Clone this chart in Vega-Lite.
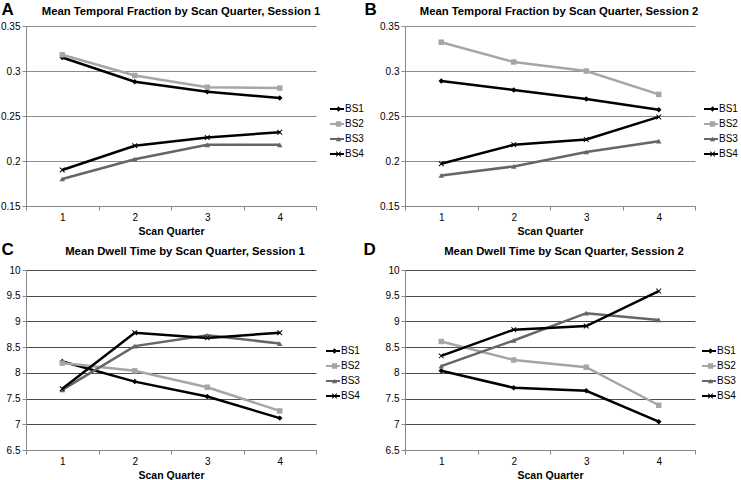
{
  "$schema": "https://vega.github.io/schema/vega-lite/v6.json",
  "padding": {"left": 0, "top": 0, "right": 0, "bottom": 0},
  "background": "white",
  "datasets": {
    "rows": [
      {"panel": "A", "quarter": 1, "series": "BS1", "value": 0.315},
      {"panel": "A", "quarter": 2, "series": "BS1", "value": 0.288},
      {"panel": "A", "quarter": 3, "series": "BS1", "value": 0.277},
      {"panel": "A", "quarter": 4, "series": "BS1", "value": 0.270},
      {"panel": "A", "quarter": 1, "series": "BS2", "value": 0.318},
      {"panel": "A", "quarter": 2, "series": "BS2", "value": 0.295},
      {"panel": "A", "quarter": 3, "series": "BS2", "value": 0.282},
      {"panel": "A", "quarter": 4, "series": "BS2", "value": 0.281},
      {"panel": "A", "quarter": 1, "series": "BS3", "value": 0.180},
      {"panel": "A", "quarter": 2, "series": "BS3", "value": 0.202},
      {"panel": "A", "quarter": 3, "series": "BS3", "value": 0.218},
      {"panel": "A", "quarter": 4, "series": "BS3", "value": 0.218},
      {"panel": "A", "quarter": 1, "series": "BS4", "value": 0.190},
      {"panel": "A", "quarter": 2, "series": "BS4", "value": 0.217},
      {"panel": "A", "quarter": 3, "series": "BS4", "value": 0.226},
      {"panel": "A", "quarter": 4, "series": "BS4", "value": 0.232},
      {"panel": "B", "quarter": 1, "series": "BS1", "value": 0.289},
      {"panel": "B", "quarter": 2, "series": "BS1", "value": 0.279},
      {"panel": "B", "quarter": 3, "series": "BS1", "value": 0.269},
      {"panel": "B", "quarter": 4, "series": "BS1", "value": 0.257},
      {"panel": "B", "quarter": 1, "series": "BS2", "value": 0.332},
      {"panel": "B", "quarter": 2, "series": "BS2", "value": 0.310},
      {"panel": "B", "quarter": 3, "series": "BS2", "value": 0.300},
      {"panel": "B", "quarter": 4, "series": "BS2", "value": 0.274},
      {"panel": "B", "quarter": 1, "series": "BS3", "value": 0.184},
      {"panel": "B", "quarter": 2, "series": "BS3", "value": 0.194},
      {"panel": "B", "quarter": 3, "series": "BS3", "value": 0.210},
      {"panel": "B", "quarter": 4, "series": "BS3", "value": 0.222},
      {"panel": "B", "quarter": 1, "series": "BS4", "value": 0.197},
      {"panel": "B", "quarter": 2, "series": "BS4", "value": 0.218},
      {"panel": "B", "quarter": 3, "series": "BS4", "value": 0.224},
      {"panel": "B", "quarter": 4, "series": "BS4", "value": 0.249},
      {"panel": "C", "quarter": 1, "series": "BS1", "value": 8.22},
      {"panel": "C", "quarter": 2, "series": "BS1", "value": 7.83},
      {"panel": "C", "quarter": 3, "series": "BS1", "value": 7.54},
      {"panel": "C", "quarter": 4, "series": "BS1", "value": 7.12},
      {"panel": "C", "quarter": 1, "series": "BS2", "value": 8.19},
      {"panel": "C", "quarter": 2, "series": "BS2", "value": 8.04},
      {"panel": "C", "quarter": 3, "series": "BS2", "value": 7.72},
      {"panel": "C", "quarter": 4, "series": "BS2", "value": 7.26},
      {"panel": "C", "quarter": 1, "series": "BS3", "value": 7.67},
      {"panel": "C", "quarter": 2, "series": "BS3", "value": 8.52},
      {"panel": "C", "quarter": 3, "series": "BS3", "value": 8.73},
      {"panel": "C", "quarter": 4, "series": "BS3", "value": 8.57},
      {"panel": "C", "quarter": 1, "series": "BS4", "value": 7.69},
      {"panel": "C", "quarter": 2, "series": "BS4", "value": 8.78},
      {"panel": "C", "quarter": 3, "series": "BS4", "value": 8.68},
      {"panel": "C", "quarter": 4, "series": "BS4", "value": 8.78},
      {"panel": "D", "quarter": 1, "series": "BS1", "value": 8.04},
      {"panel": "D", "quarter": 2, "series": "BS1", "value": 7.71},
      {"panel": "D", "quarter": 3, "series": "BS1", "value": 7.65},
      {"panel": "D", "quarter": 4, "series": "BS1", "value": 7.05},
      {"panel": "D", "quarter": 1, "series": "BS2", "value": 8.61},
      {"panel": "D", "quarter": 2, "series": "BS2", "value": 8.25},
      {"panel": "D", "quarter": 3, "series": "BS2", "value": 8.11},
      {"panel": "D", "quarter": 4, "series": "BS2", "value": 7.37},
      {"panel": "D", "quarter": 1, "series": "BS3", "value": 8.13},
      {"panel": "D", "quarter": 2, "series": "BS3", "value": 8.63},
      {"panel": "D", "quarter": 3, "series": "BS3", "value": 9.16},
      {"panel": "D", "quarter": 4, "series": "BS3", "value": 9.03},
      {"panel": "D", "quarter": 1, "series": "BS4", "value": 8.33},
      {"panel": "D", "quarter": 2, "series": "BS4", "value": 8.84},
      {"panel": "D", "quarter": 3, "series": "BS4", "value": 8.91},
      {"panel": "D", "quarter": 4, "series": "BS4", "value": 9.59}
    ]
  },
  "data": {"name": "rows"},
  "columns": 2,
  "spacing": {"row": 64, "column": 89},
  "bounds": "flush",
  "resolve": {
    "scale": {"stroke": "independent", "color": "independent", "shape": "independent", "x": "independent", "y": "independent"},
    "legend": {"stroke": "independent", "color": "independent", "shape": "independent"}
  },
  "concat": [
    {
      "width": 290, "height": 180,
      "title": {"text": "Mean Temporal Fraction by Scan Quarter, Session 1", "dx": 10},
      "transform": [{"filter": "datum.panel === 'A'"}],
      "encoding": {
        "x": {"field": "quarter", "type": "ordinal", "bandPosition": 0.5,
              "scale": {"type": "band", "paddingInner": 0, "paddingOuter": 0},
              "axis": {"title": "Scan Quarter"}},
        "y": {"field": "value", "type": "quantitative",
              "scale": {"domain": [0.15, 0.35], "nice": false, "zero": false},
              "axis": {"values": [0.15, 0.2, 0.25, 0.3, 0.35], "format": "~g", "gridColor": "#8c8c8c",
                       "title": "A", "titleX": -25, "titleY": -12}}
      },
      "layer": [
        {"mark": {"type": "line", "strokeWidth": 2.5},
         "encoding": {"stroke": {"field": "series", "type": "nominal",
           "scale": {"range": ["#000000", "#a6a6a6", "#666666", "#000000"]},
           "legend": {"legendX": 303, "legendY": 78}}}},
        {"mark": {"type": "point", "filled": true, "size": 30, "opacity": 1},
         "encoding": {
           "color": {"field": "series", "type": "nominal",
             "scale": {"domain": ["BS1", "BS2", "BS3", "BS4"], "range": ["#000000", "#a6a6a6", "#666666", "#000000"]},
             "legend": {"legendX": 307.5, "legendY": 78, "symbolSize": 28, "labelExpr": "''", "labelOffset": 0, "symbolStrokeWidth": 0}},
           "shape": {"field": "series", "type": "nominal", "legend": null,
             "scale": {"domain": ["BS1", "BS2", "BS3", "BS4"], "range": ["diamond", "square", "triangle-up", "M-1,-0.75L-0.75,-1L0,-0.25L0.75,-1L1,-0.75L0.25,0L1,0.75L0.75,1L0,0.25L-0.75,1L-1,0.75L-0.25,0Z"]}}}}
      ]
    },
    {
      "width": 290, "height": 180,
      "title": {"text": "Mean Temporal Fraction by Scan Quarter, Session 2", "dx": 9},
      "transform": [{"filter": "datum.panel === 'B'"}],
      "encoding": {
        "x": {"field": "quarter", "type": "ordinal", "bandPosition": 0.5,
              "scale": {"type": "band", "paddingInner": 0, "paddingOuter": 0},
              "axis": {"title": "Scan Quarter"}},
        "y": {"field": "value", "type": "quantitative",
              "scale": {"domain": [0.15, 0.35], "nice": false, "zero": false},
              "axis": {"values": [0.15, 0.2, 0.25, 0.3, 0.35], "format": "~g", "gridColor": "#8c8c8c",
                       "title": "B", "titleX": -41, "titleY": -12}}
      },
      "layer": [
        {"mark": {"type": "line", "strokeWidth": 2.5},
         "encoding": {"stroke": {"field": "series", "type": "nominal",
           "scale": {"range": ["#000000", "#a6a6a6", "#666666", "#000000"]},
           "legend": {"legendX": 298, "legendY": 78}}}},
        {"mark": {"type": "point", "filled": true, "size": 30, "opacity": 1},
         "encoding": {
           "color": {"field": "series", "type": "nominal",
             "scale": {"domain": ["BS1", "BS2", "BS3", "BS4"], "range": ["#000000", "#a6a6a6", "#666666", "#000000"]},
             "legend": {"legendX": 302.5, "legendY": 78, "symbolSize": 28, "labelExpr": "''", "labelOffset": 0, "symbolStrokeWidth": 0}},
           "shape": {"field": "series", "type": "nominal", "legend": null,
             "scale": {"domain": ["BS1", "BS2", "BS3", "BS4"], "range": ["diamond", "square", "triangle-up", "M-1,-0.75L-0.75,-1L0,-0.25L0.75,-1L1,-0.75L0.25,0L1,0.75L0.75,1L0,0.25L-0.75,1L-1,0.75L-0.25,0Z"]}}}}
      ]
    },
    {
      "width": 290, "height": 180,
      "title": {"text": "Mean Dwell Time by Scan Quarter, Session 1", "dx": 14},
      "transform": [{"filter": "datum.panel === 'C'"}],
      "encoding": {
        "x": {"field": "quarter", "type": "ordinal", "bandPosition": 0.5,
              "scale": {"type": "band", "paddingInner": 0, "paddingOuter": 0},
              "axis": {"title": "Scan Quarter"}},
        "y": {"field": "value", "type": "quantitative",
              "scale": {"domain": [6.5, 10], "nice": false, "zero": false},
              "axis": {"values": [6.5, 7, 7.5, 8, 8.5, 9, 9.5, 10], "format": "~g", "gridColor": "#4d4d4d",
                       "title": "C", "titleX": -25, "titleY": -16}}
      },
      "layer": [
        {"mark": {"type": "line", "strokeWidth": 2.5},
         "encoding": {"stroke": {"field": "series", "type": "nominal",
           "scale": {"range": ["#000000", "#a6a6a6", "#666666", "#000000"]},
           "legend": {"legendX": 299, "legendY": 76}}}},
        {"mark": {"type": "point", "filled": true, "size": 30, "opacity": 1},
         "encoding": {
           "color": {"field": "series", "type": "nominal",
             "scale": {"domain": ["BS1", "BS2", "BS3", "BS4"], "range": ["#000000", "#a6a6a6", "#666666", "#000000"]},
             "legend": {"legendX": 303.5, "legendY": 76, "symbolSize": 28, "labelExpr": "''", "labelOffset": 0, "symbolStrokeWidth": 0}},
           "shape": {"field": "series", "type": "nominal", "legend": null,
             "scale": {"domain": ["BS1", "BS2", "BS3", "BS4"], "range": ["diamond", "square", "triangle-up", "M-1,-0.75L-0.75,-1L0,-0.25L0.75,-1L1,-0.75L0.25,0L1,0.75L0.75,1L0,0.25L-0.75,1L-1,0.75L-0.25,0Z"]}}}}
      ]
    },
    {
      "width": 290, "height": 180,
      "title": {"text": "Mean Dwell Time by Scan Quarter, Session 2", "dx": 14},
      "transform": [{"filter": "datum.panel === 'D'"}],
      "encoding": {
        "x": {"field": "quarter", "type": "ordinal", "bandPosition": 0.5,
              "scale": {"type": "band", "paddingInner": 0, "paddingOuter": 0},
              "axis": {"title": "Scan Quarter"}},
        "y": {"field": "value", "type": "quantitative",
              "scale": {"domain": [6.5, 10], "nice": false, "zero": false},
              "axis": {"values": [6.5, 7, 7.5, 8, 8.5, 9, 9.5, 10], "format": "~g", "gridColor": "#4d4d4d",
                       "title": "D", "titleX": -42, "titleY": -16}}
      },
      "layer": [
        {"mark": {"type": "line", "strokeWidth": 2.5},
         "encoding": {"stroke": {"field": "series", "type": "nominal",
           "scale": {"range": ["#000000", "#a6a6a6", "#666666", "#000000"]},
           "legend": {"legendX": 296, "legendY": 76}}}},
        {"mark": {"type": "point", "filled": true, "size": 30, "opacity": 1},
         "encoding": {
           "color": {"field": "series", "type": "nominal",
             "scale": {"domain": ["BS1", "BS2", "BS3", "BS4"], "range": ["#000000", "#a6a6a6", "#666666", "#000000"]},
             "legend": {"legendX": 300.5, "legendY": 76, "symbolSize": 28, "labelExpr": "''", "labelOffset": 0, "symbolStrokeWidth": 0}},
           "shape": {"field": "series", "type": "nominal", "legend": null,
             "scale": {"domain": ["BS1", "BS2", "BS3", "BS4"], "range": ["diamond", "square", "triangle-up", "M-1,-0.75L-0.75,-1L0,-0.25L0.75,-1L1,-0.75L0.25,0L1,0.75L0.75,1L0,0.25L-0.75,1L-1,0.75L-0.25,0Z"]}}}}
      ]
    }
  ],
  "config": {
    "font": "Liberation Sans",
    "view": {"stroke": null},
    "title": {"fontSize": 11.3, "fontWeight": "bold", "color": "#000000", "anchor": "middle", "baseline": "alphabetic", "offset": -17},
    "axis": {"labelFontSize": 10, "labelColor": "#000000", "domainColor": "#888888", "tickColor": "#888888", "titleColor": "#000000"},
    "axisX": {"grid": false, "labelAngle": 0, "tickBand": "extent", "tickSize": 4, "labelPadding": 2,
              "titleFontSize": 10.5, "titleFontWeight": "bold", "titlePadding": 4},
    "axisY": {"grid": true, "tickSize": 4, "labelPadding": 2, "gridWidth": 1,
              "titleAngle": 0, "titleAlign": "left", "titleBaseline": "alphabetic", "titleFontSize": 17, "titleFontWeight": "bold"},
    "legend": {
      "orient": "none", "title": null, "padding": 0, "symbolSize": 100, "symbolStrokeWidth": 2,
      "symbolType": "M-1,0L1.8,0", "clipHeight": 10,
      "labelFontSize": 10, "labelColor": "#000000", "labelOffset": 4, "rowPadding": 5
    }
  }
}
